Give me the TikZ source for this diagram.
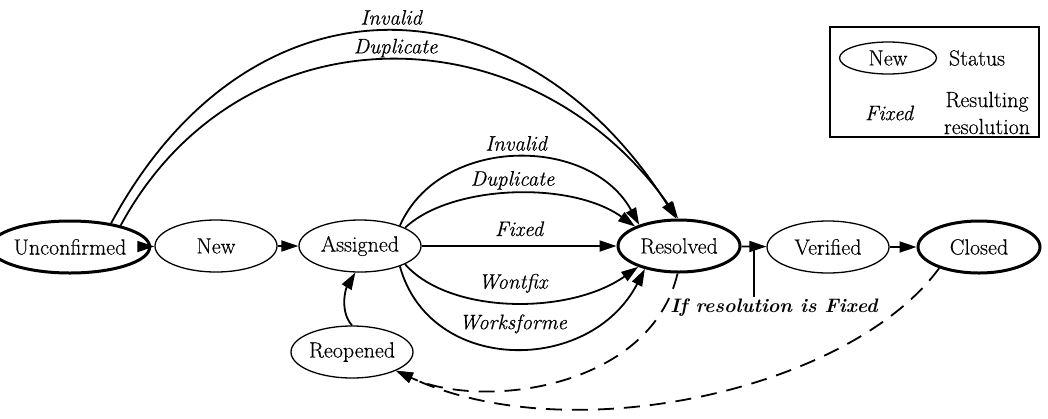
\documentclass[tikz,border=0pt]{standalone}
\usepackage{fontspec}
\setmainfont{Latin Modern Roman}[UprightFeatures={FakeBold=0.35}, ItalicFeatures={FakeBold=0.35}]
\usetikzlibrary{shapes.geometric, arrows.meta, calc}
\begin{document}
\begin{tikzpicture}[x=1pt, y=-1pt,
  txt/.style={font=\fontsize{22}{27}\selectfont, inner sep=0pt},
  state/.style={txt, ellipse, draw, line width=1.3pt, minimum width=122pt, minimum height=52pt},
  keystate/.style={state, line width=3pt},
  flow/.style={line width=1.8pt, -{Triangle[length=17pt, width=11pt]}},
  back/.style={flow, dash pattern=on 16pt off 10pt},
  lab/.style={font=\fontsize{21}{25}\selectfont\itshape, anchor=base, inner sep=0pt},
]
\useasboundingbox (0,0) rectangle (1048,418);

% states
\node[keystate] (unc) at (70,247) {Unconfirmed};
\node[state]    (new) at (216,246) {New};
\node[state]    (ass) at (360,246) {Assigned};
\node[keystate] (res) at (679,246) {Resolved};
\node[state]    (ver) at (828,247) {Verified};
\node[keystate] (clo) at (979,247) {Closed};
\node[state]    (reo) at (352,352) {Reopened};

% main line
\draw[flow] (unc) -- (new);
\draw[flow] (new) -- (ass);
\draw[flow] (res) -- (ver);
\draw[flow] (ver) -- (clo);
\draw[flow] (ass) -- node[lab, midway, yshift=10pt] {Fixed} (res);

% resolutions from Unconfirmed
\draw[flow] (unc.30) .. controls (250,-35) and (520,-28) .. node[lab, midway, xshift=4pt, yshift=7pt] {Invalid} (res.96);
\draw[flow] (unc.23) .. controls (240,5) and (530,8) .. node[lab, midway, xshift=7pt, yshift=7pt] {Duplicate} (res.92);

% resolutions from Assigned
\draw[flow] (ass.27) .. controls (440,135) and (590,135) .. node[lab, midway, yshift=7pt] {Invalid} (res.152);
\draw[flow] (ass.22) .. controls (450,185) and (570,180) .. node[lab, midway, yshift=8pt] {Duplicate} (res.156);
\draw[flow] (ass.-22) .. controls (450,315) and (570,315) .. node[lab, midway, yshift=14pt] {Wontfix} (res.-153);
\draw[flow] (ass.-27) .. controls (430,375) and (590,375) .. node[lab, midway, yshift=19pt] {Worksforme} (res.-146);

% reopening
\draw[flow] (reo.north) .. controls (340,312) and (345,290) .. (ass.-100);
\draw[back] (res.-93) .. controls (650,390) and (480,410) .. (reo.-23);
\draw[back] (clo.-152) .. controls (850,390) and (570,452) .. (reo.-23);

% verification condition
\node[font=\fontsize{19.5}{24}\selectfont\bfseries\itshape, inner sep=2pt] (cond) at (774,308) {If resolution is Fixed};
\coordinate (tap) at ($(res.east)!0.5!(ver.west)$);
\draw[line width=1.5pt] (tap |- cond.north) -- (tap);

% legend
\node[draw, line width=1.4pt, minimum width=209pt, minimum height=110pt, inner sep=0pt] (legend) at (934.5,82) {};
\node[state, minimum width=97pt, minimum height=32pt] (lnew) at (888,58) {New};
\node[txt] (lstat) at (977,58) {Status};
\node[lab, anchor=center] (lfix) at (889,113) {Fixed};
\node[txt, align=center] (lres) at (987,113) {Resulting\\resolution};
\end{tikzpicture}
\end{document}
